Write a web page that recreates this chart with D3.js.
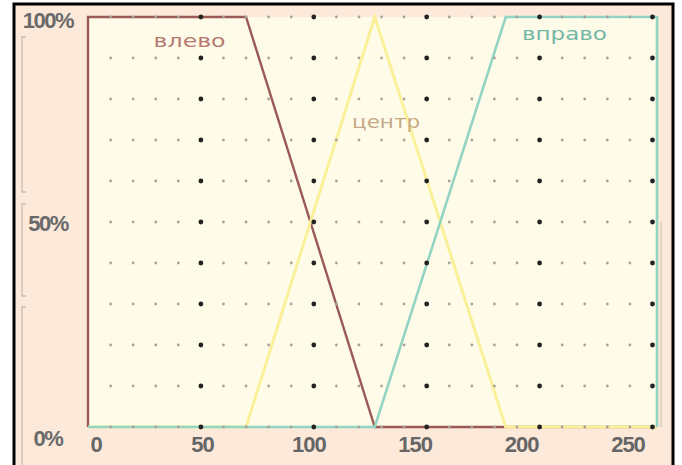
<!DOCTYPE html>
<html><head><meta charset="utf-8">
<script src="https://cdn.jsdelivr.net/npm/d3@7/dist/d3.min.js"></script>
<style>html,body{margin:0;padding:0;background:#fff;}svg{display:block;}</style>
</head><body>
<script>
// ---- data ----
const termNames = ["влево", "центр", "вправо"];
const levoX  = [0, 0, 70, 127, 252];
const levoY  = [0, 100, 100, 0, 0];
const centrX = [0, 70, 127, 185, 252];
const centrY = [0, 0, 100, 0, 0];
const pravoX = [0, 127, 185, 252, 252];
const pravoY = [0, 0, 100, 100, 0];
const xTickLabels = [0, 50, 100, 150, 200, 250];
const yTickLabels = [0, 50, 100];
const xMax = 252;

const W = 682, H = 465;
const svg = d3.select("body").append("svg").attr("width", W).attr("height", H);

// panel background
svg.append("rect").attr("x", 14).attr("y", 4).attr("width", 659).attr("height", 470).attr("fill", "#fde9da");

const x = d3.scaleLinear().domain([0, xMax]).range([88, 657]);
const y = d3.scaleLinear().domain([0, 100]).range([427, 17]);
const xLab = d3.scaleLinear().domain([0, 250]).range([96, 628]);
const yLab = d3.scaleLinear().domain([0, 50, 100]).range([446, 231, 28]);

// plot background
svg.append("rect").attr("x", x(0)).attr("y", y(100)).attr("width", x(xMax) - x(0)).attr("height", y(0) - y(100)).attr("fill", "#fffbe9");

// left ruler decoration
const ruler = svg.append("g").attr("stroke", "#cdbcae").attr("stroke-width", 1.3).attr("fill", "none");
[[37, 192], [204, 296], [307, 470]].forEach(([a, b]) => {
  ruler.append("path").attr("d", `M26,${a}H22V${b}H26`);
});

// right edge faint line
svg.append("line").attr("x1", 661).attr("x2", 661).attr("y1", y(50)).attr("y2", y(0)).attr("stroke", "#c9c0b0").attr("stroke-width", 1);

// membership lines
const line = d3.line().x(d => x(d[0])).y(d => y(d[1]));
const series = [
  {name: termNames[0], xs: levoX, ys: levoY, color: "#9b5a55", w: 2.4},
  {name: termNames[1], xs: centrX, ys: centrY, color: "#fbf09a", w: 3},
  {name: termNames[2], xs: pravoX, ys: pravoY, color: "#93d5c2", w: 2.6}
];
series.forEach(s => {
  svg.append("path").datum(s.xs.map((v, i) => [v, s.ys[i]]))
    .attr("d", line).attr("fill", "none").attr("stroke", s.color)
    .attr("stroke-width", s.w).attr("stroke-linejoin", "miter");
});

// dot grid
const cols = d3.range(10, 251, 10);
const rows = d3.range(0, 101, 10);
const g = svg.append("g");
rows.forEach(r => {
  cols.forEach(c => {
    const big = c % 50 === 0;
    g.append("circle").attr("cx", x(c)).attr("cy", y(r))
      .attr("r", big ? 2.4 : 1.4)
      .attr("fill", big ? "#222" : "#a8a29c");
  });
});

// term labels
const labelPos = [
  {t: termNames[0], xv: 45, yv: 92.6, color: "#b77a72", len: 72},
  {t: termNames[1], xv: 132, yv: 73, color: "#c6a985", len: 68},
  {t: termNames[2], xv: 211, yv: 94.3, color: "#74b6a6", len: 85}
];
labelPos.forEach(l => {
  svg.append("text").attr("x", x(l.xv)).attr("y", y(l.yv))
    .attr("text-anchor", "middle").attr("font-family", "DejaVu Sans, sans-serif")
    .attr("font-size", 17).attr("fill", l.color)
    .attr("textLength", l.len).attr("lengthAdjust", "spacingAndGlyphs")
    .text(l.t);
});

// x tick labels
svg.append("g").selectAll("text").data(xTickLabels).join("text")
  .attr("x", d => xLab(d)).attr("y", 452)
  .attr("text-anchor", "middle").attr("font-family", "Liberation Sans, Arial, sans-serif")
  .attr("font-weight", "bold").attr("font-size", 22).attr("fill", "#666")
  .attr("letter-spacing", -1)
  .text(d => d);

// y tick labels
svg.append("g").selectAll("text").data(yTickLabels).join("text")
  .attr("x", 48).attr("y", d => yLab(d))
  .attr("text-anchor", "middle").attr("font-family", "Liberation Sans, Arial, sans-serif")
  .attr("font-weight", "bold").attr("font-size", 22).attr("fill", "#6a6a6a")
  .attr("letter-spacing", -1.5)
  .text(d => d + "%");

// outer black frame
svg.append("path").attr("d", "M14,470V4H673V470").attr("fill", "none").attr("stroke", "#000").attr("stroke-width", 3);
</script>
</body></html>
